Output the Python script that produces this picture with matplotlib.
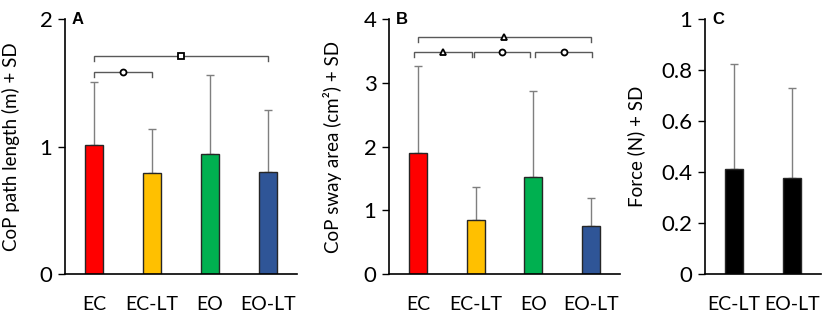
import matplotlib
matplotlib.use("Agg")
import matplotlib.pyplot as plt
import numpy as np

plt.rcParams['font.family'] = ['Lato', 'DejaVu Sans']

# ---- data ----
cats_ab = ["EC", "EC-LT", "EO", "EO-LT"]
colors_ab = ["#FF0000", "#FFC000", "#00B050", "#2F5597"]

path_mean = [1.01, 0.79, 0.94, 0.80]
path_sd = [0.50, 0.35, 0.62, 0.49]

sway_mean = [1.90, 0.85, 1.53, 0.75]
sway_sd = [1.36, 0.52, 1.34, 0.44]

cats_c = ["EC-LT", "EO-LT"]
force_mean = [0.413, 0.378]
force_sd = [0.411, 0.353]

# comparisons: (start, end, height, marker)
comp_a = [(0, 1, 1.59, "o"), (0, 3, 1.715, "s")]
comp_b = [(0, 3, 3.715, "^"), (-0.06, 0.93, 3.48, "^"),
          (0.97, 1.94, 3.48, "o"), (2.03, 3.02, 3.48, "o")]

fig = plt.figure(figsize=(8.29, 3.14), dpi=100)

H = 314.0
W = 829.0
bottom = 1 - 274 / H
top = 1 - 19.3 / H
axA = fig.add_axes([65 / W, bottom, (297 - 65) / W, top - bottom])
axB = fig.add_axes([389 / W, bottom, (620 - 389) / W, top - bottom])
axC = fig.add_axes([705 / W, bottom, (821 - 705) / W, top - bottom])

edge = "#262626"
ecol = "#7F7F7F"


def style(ax, cats, ylim, yticks, yticklabels, ylabel):
    ax.set_xlim(-0.5, len(cats) - 0.5)
    ax.set_ylim(*ylim)
    ax.set_xticks(range(len(cats)))
    ax.set_xticklabels(cats, fontsize=14)
    ax.set_yticks(yticks)
    ax.set_yticklabels(yticklabels, fontsize=16)
    ax.tick_params(axis='x', length=0, pad=15.5)
    ax.tick_params(axis='y', length=5, width=1, pad=4)
    for s in ['top', 'right']:
        ax.spines[s].set_visible(False)
    for s in ['left', 'bottom']:
        ax.spines[s].set_linewidth(1.2)
        ax.spines[s].set_color("#000000")
    ax.set_ylabel(ylabel, fontsize=13.5)


def bars(ax, cats, means, sds, colors):
    x = np.arange(len(cats))
    ax.bar(x, means, width=0.31, color=colors, edgecolor=edge, linewidth=1.0, zorder=2)
    ax.errorbar(x, means, yerr=[np.zeros(len(sds)), sds], fmt='none',
                ecolor=ecol, elinewidth=1.0, capsize=3, capthick=1.0, zorder=1)


def brackets(ax, comps, drop):
    for a, b, h, m in comps:
        ax.plot([a, a, b, b], [h - drop, h, h, h - drop], color="#595959", lw=1.0,
                solid_joinstyle='miter', zorder=3)
        ax.plot([(a + b) / 2], [h], marker=m, ms=4.3, mfc='white', mec='black',
                mew=1.3, zorder=4, clip_on=False)


bars(axA, cats_ab, path_mean, path_sd, colors_ab)
style(axA, cats_ab, (0, 2), [0, 1, 2], ["0", "1", "2"], "CoP path length (m) + SD")
brackets(axA, comp_a, 0.04)

bars(axB, cats_ab, sway_mean, sway_sd, colors_ab)
style(axB, cats_ab, (0, 4), [0, 1, 2, 3, 4], ["0", "1", "2", "3", "4"],
      "CoP sway area (cm²) + SD")
brackets(axB, comp_b, 0.075)

bars(axC, cats_c, force_mean, force_sd, ["#000000", "#000000"])
style(axC, cats_c, (0, 1), [0, 0.2, 0.4, 0.6, 0.8, 1.0],
      ["0", "0.2", "0.4", "0.6", "0.8", "1"], "Force (N) + SD")

axA.yaxis.set_label_coords(-0.194, 0.5)
axB.yaxis.set_label_coords(-0.203, 0.5)
axC.yaxis.set_label_coords(-0.517, 0.5)

for ax, letter, xo in [(axA, "A", 0.03), (axB, "B", 0.03), (axC, "C", 0.06)]:
    ax.text(xo, 1.0, letter, transform=ax.transAxes, fontsize=12, fontweight='bold',
            family=['Liberation Sans', 'DejaVu Sans'], va='center', ha='left')

fig.savefig("out.png", dpi=100)
